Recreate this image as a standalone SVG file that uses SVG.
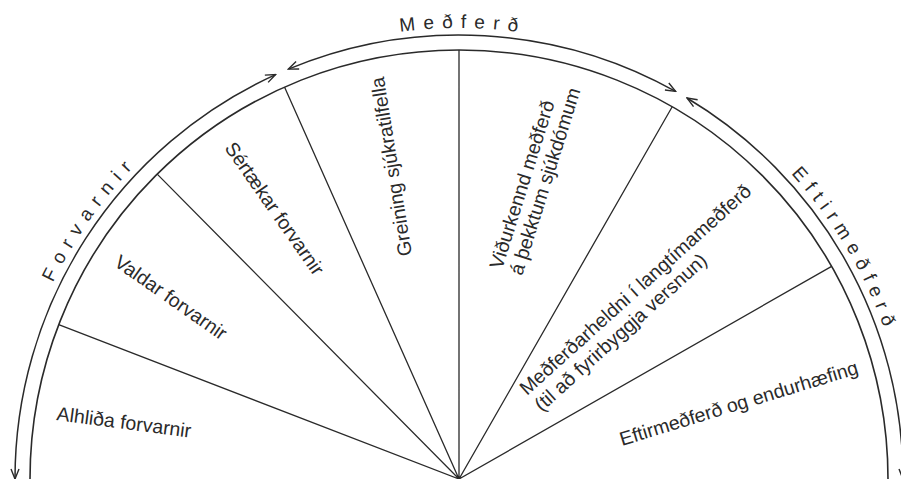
<svg xmlns="http://www.w3.org/2000/svg" width="901" height="479" viewBox="0 0 901 479">
<style>
.ln{fill:none;stroke:#2a2a2a;stroke-width:1.3}
.arc{fill:none;stroke:#2a2a2a;stroke-width:1.6}
.con{fill:none;stroke:#2a2a2a;stroke-width:1.5}
.lbl{font-family:"Liberation Sans",Arial,sans-serif;font-size:19.5px;fill:#2a2a2a}
.big{font-family:"Liberation Sans",Arial,sans-serif;font-size:19px;fill:#2a2a2a;letter-spacing:8px}
</style>
<defs>
<marker id="ah" viewBox="0 0 12 10" refX="11" refY="5" markerWidth="12" markerHeight="10" markerUnits="userSpaceOnUse" orient="auto-start-reverse"><path d="M1,1 L11,5 L1,9" fill="none" stroke="#2a2a2a" stroke-width="1.4"/></marker>
<path id="lp" d="M8,479 A451,451 0 0 1 910,479"/>
</defs>
<rect width="901" height="479" fill="#fff"/>
<g id="frame">
<path class="arc" d="M30,479 A429,429 0 0 1 888,479"/>
<path class="ln" d="M459,479 L58.7,324.6 M459,479 L157.2,174.1 M459,479 L284.5,87.1 M459,479 L459,50 M459,479 L672.2,106.7 M459,479 L831.6,266.4"/>
</g>
<g id="connectors">
<path class="con" d="M15,479 A444,444 0 0 1 275.6,74.6" marker-start="url(#ah)" marker-end="url(#ah)"/>
<path class="con" d="M288.4,69.1 A444,444 0 0 1 675.6,91.4" marker-start="url(#ah)" marker-end="url(#ah)"/>
<path class="con" d="M687,98 A444,444 0 0 1 903,479" marker-start="url(#ah)" marker-end="url(#ah)"/>
</g>
<g id="phase-forvarnir"><text class="big"><textPath href="#lp" startOffset="277" text-anchor="middle">Forvarnir</textPath></text></g>
<g id="phase-medferd"><text class="big"><textPath href="#lp" startOffset="712" text-anchor="middle">Meðferð</textPath></text></g>
<g id="phase-eftirmedferd"><text class="big" style="letter-spacing:7px"><textPath href="#lp" startOffset="1175" text-anchor="middle">Eftirmeðferð</textPath></text></g>
<g id="alhlida"><text class="lbl" transform="translate(56,420) rotate(7.5)">Alhliða forvarnir</text></g>
<g id="valdar"><text class="lbl" transform="translate(113,265) rotate(35)">Valdar forvarnir</text></g>
<g id="sertaekar"><text class="lbl" transform="translate(224,148) rotate(55)">Sértækar forvarnir</text></g>
<g id="greining"><text class="lbl" transform="translate(412,255) rotate(-99)">Greining sjúkratilfella</text></g>
<g id="vidurkennd"><text class="lbl" transform="translate(502,270) rotate(-72.5)"><tspan x="0" y="0">Viðurkennd meðferð</tspan><tspan x="0" y="21">á þekktum sjúkdómum</tspan></text></g>
<g id="medferdarheldni"><text class="lbl" transform="translate(527,396) rotate(-42)"><tspan x="0" y="0">Meðferðarheldni í langtímameðferð</tspan><tspan x="0" y="22">(til að fyrirbyggja versnun)</tspan></text></g>
<g id="eftirmedferd-label"><text class="lbl" transform="translate(622,446) rotate(-17)">Eftirmeðferð og endurhæfing</text></g>
</svg>
